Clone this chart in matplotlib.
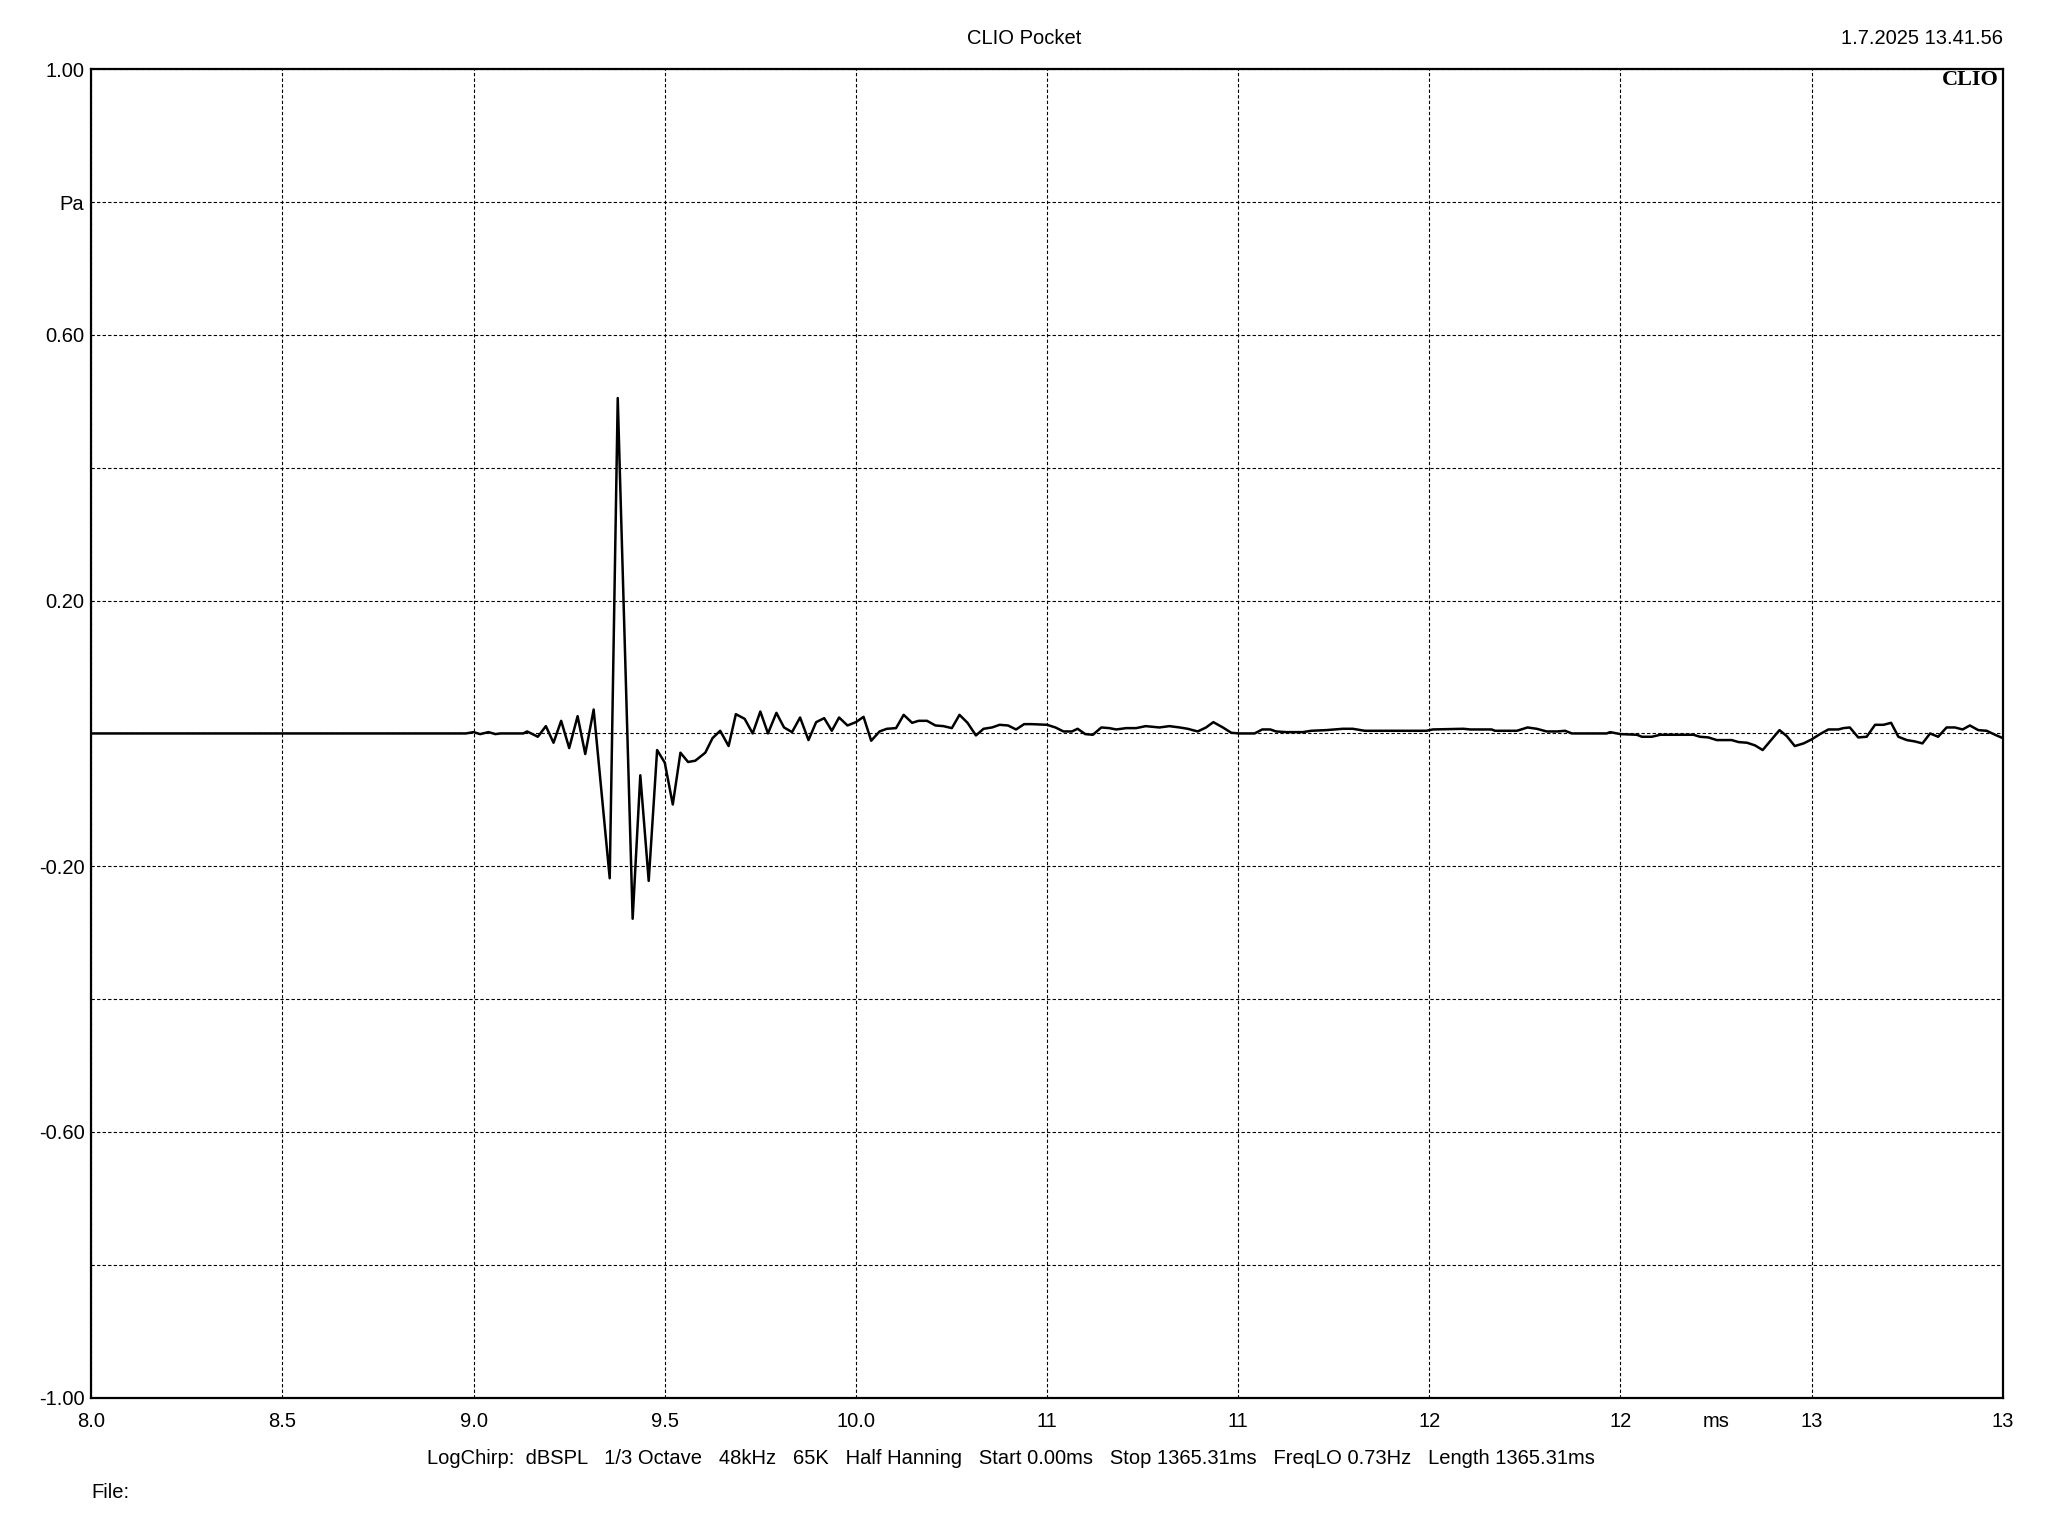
import matplotlib
matplotlib.use("Agg")
import matplotlib.pyplot as plt
import numpy as np

plt.rcParams["font.family"] = ["Liberation Sans", "DejaVu Sans"]

# impulse response (time in ms, pressure in Pa)
time_ms = [
    8.0, 8.98, 9.0, 9.017, 9.039, 9.057, 9.07, 9.13, 9.14,
    9.168, 9.189, 9.209, 9.229, 9.250, 9.272, 9.292, 9.314, 9.356, 9.377,
    9.416, 9.436, 9.458, 9.480, 9.500, 9.521, 9.541, 9.561, 9.580,
    9.606, 9.625, 9.645, 9.667, 9.686, 9.709, 9.730, 9.750, 9.770, 9.792,
    9.812, 9.833, 9.854, 9.876, 9.896, 9.917, 9.937, 9.956, 9.978, 10.000,
    10.020, 10.040, 10.062, 10.081, 10.105, 10.125, 10.147, 10.164, 10.186,
    10.208, 10.229, 10.251, 10.271, 10.292, 10.314, 10.334, 10.356, 10.376,
    10.398, 10.419, 10.440, 10.460, 10.500, 10.522, 10.543,
    10.565, 10.580, 10.600, 10.620, 10.642, 10.663, 10.681, 10.707, 10.733,
    10.758, 10.794, 10.820, 10.847, 10.868, 10.894, 10.916, 10.935, 10.960,
    10.982, 11.003, 11.043, 11.063, 11.084, 11.099, 11.126, 11.169, 11.191,
    11.230, 11.274, 11.300, 11.331, 11.405, 11.492, 11.509,
    11.589, 11.607, 11.663, 11.672, 11.729, 11.757, 11.781, 11.807, 11.835,
    11.855, 11.873, 11.964, 11.973, 12.000, 12.043, 12.056, 12.082, 12.104,
    12.191, 12.208, 12.230, 12.252, 12.291, 12.309, 12.331, 12.352, 12.372,
    12.416,
    12.435, 12.456, 12.479, 12.500, 12.522, 12.544, 12.570, 12.583, 12.600,
    12.622, 12.644, 12.666, 12.688, 12.708, 12.727, 12.749, 12.770, 12.790,
    12.810, 12.831, 12.853, 12.875, 12.895, 12.914, 12.936, 12.958, 12.980,
    13.000,
]
pressure_pa = [
    0.0, 0.0, 0.002, -0.001, 0.002, -0.001, 0.0, 0.0, 0.003,
    -0.005, 0.011, -0.014, 0.019, -0.022, 0.026, -0.031, 0.036, -0.218, 0.505,
    -0.279, -0.063, -0.222, -0.025, -0.044, -0.107, -0.029, -0.043, -0.041,
    -0.029, -0.007, 0.004, -0.019, 0.029, 0.022, 0.0, 0.033, 0.0, 0.031,
    0.009, 0.002, 0.024, -0.010, 0.017, 0.023, 0.004, 0.024, 0.012, 0.017,
    0.025, -0.011, 0.003, 0.007, 0.008, 0.028, 0.016, 0.019, 0.019,
    0.012, 0.011, 0.008, 0.028, 0.016, -0.003, 0.007, 0.009, 0.013,
    0.012, 0.006, 0.014, 0.014, 0.013, 0.009, 0.003,
    0.003, 0.007, -0.001, -0.002, 0.009, 0.008, 0.006, 0.008, 0.008,
    0.011, 0.009, 0.011, 0.009, 0.007, 0.003, 0.009, 0.017, 0.009,
    0.001, 0.0, 0.0, 0.006, 0.006, 0.003, 0.002, 0.002, 0.004,
    0.005, 0.007, 0.007, 0.004, 0.004, 0.004, 0.006,
    0.007, 0.006, 0.006, 0.004, 0.004, 0.009, 0.007, 0.003, 0.003,
    0.004, 0.0, 0.0, 0.002, -0.001, -0.002, -0.005, -0.005, -0.002,
    -0.002, -0.005, -0.006, -0.010, -0.010, -0.013, -0.014, -0.018, -0.025,
    0.005,
    -0.004, -0.019, -0.015, -0.009, -0.001, 0.006, 0.006, 0.008, 0.009,
    -0.006, -0.005, 0.013, 0.013, 0.016, -0.005, -0.010, -0.012, -0.015,
    0.0, -0.005, 0.009, 0.009, 0.006, 0.012, 0.005, 0.004, -0.002,
    -0.007,
]

x_ticks = [8.0, 8.5, 9.0, 9.5, 10.0, 10.5, 11.0, 11.5, 12.0, 12.5, 13.0]
x_tick_labels = ["8.0", "8.5", "9.0", "9.5", "10.0", "11", "11", "12", "12", "13", "13"]
y_ticks = [-1.0, -0.8, -0.6, -0.4, -0.2, 0.0, 0.2, 0.4, 0.6, 0.8, 1.0]
y_tick_labels = ["-1.00", "", "-0.60", "", "-0.20", "", "0.20", "", "0.60", "Pa", "1.00"]

info = ("LogChirp:  dBSPL   1/3 Octave   48kHz   65K   Half Hanning   "
        "Start 0.00ms   Stop 1365.31ms   FreqLO 0.73Hz   Length 1365.31ms")

fs = 14.5
xpad = 10.5

fig = plt.figure(figsize=(20.48, 15.36), dpi=100)
ax = fig.add_axes([0.0446, 0.0901, 0.9333, 0.8648])

ax.plot(time_ms, pressure_pa, color="black", linewidth=1.8)

ax.set_xlim(8.0, 13.0)
ax.set_ylim(-1.0, 1.0)
ax.set_xticks(x_ticks, x_tick_labels)
ax.set_yticks(y_ticks, y_tick_labels)
ax.tick_params(axis="both", length=0, labelsize=fs)
ax.tick_params(axis="x", pad=xpad)
ax.tick_params(axis="y", pad=5)
ax.grid(True, color="black", linewidth=0.8, linestyle=(0, (3, 2)))

for s in ax.spines.values():
    s.set_linewidth(1.6)

ax.annotate("ms", xy=(12.25, 0), xycoords=ax.get_xaxis_transform(),
            xytext=(0, -xpad), textcoords="offset points",
            ha="center", va="top", fontsize=fs)
ax.text(0.998, 0.9995, "CLIO", transform=ax.transAxes, ha="right", va="top",
        fontsize=16, fontweight="bold", family=["Liberation Serif", "DejaVu Serif"])

fig.text(0.5, 1 - 38 / 1536, "CLIO Pocket", ha="center", va="center", fontsize=fs)
fig.text(0.9779, 1 - 38 / 1536, "1.7.2025 13.41.56", ha="right", va="center", fontsize=fs)
fig.text(0.4937, 1 - 1458 / 1536, info, ha="center", va="center", fontsize=fs)
fig.text(0.0446, 1 - 1492 / 1536, "File:", ha="left", va="center", fontsize=fs)

fig.savefig("out.png", dpi=100)
